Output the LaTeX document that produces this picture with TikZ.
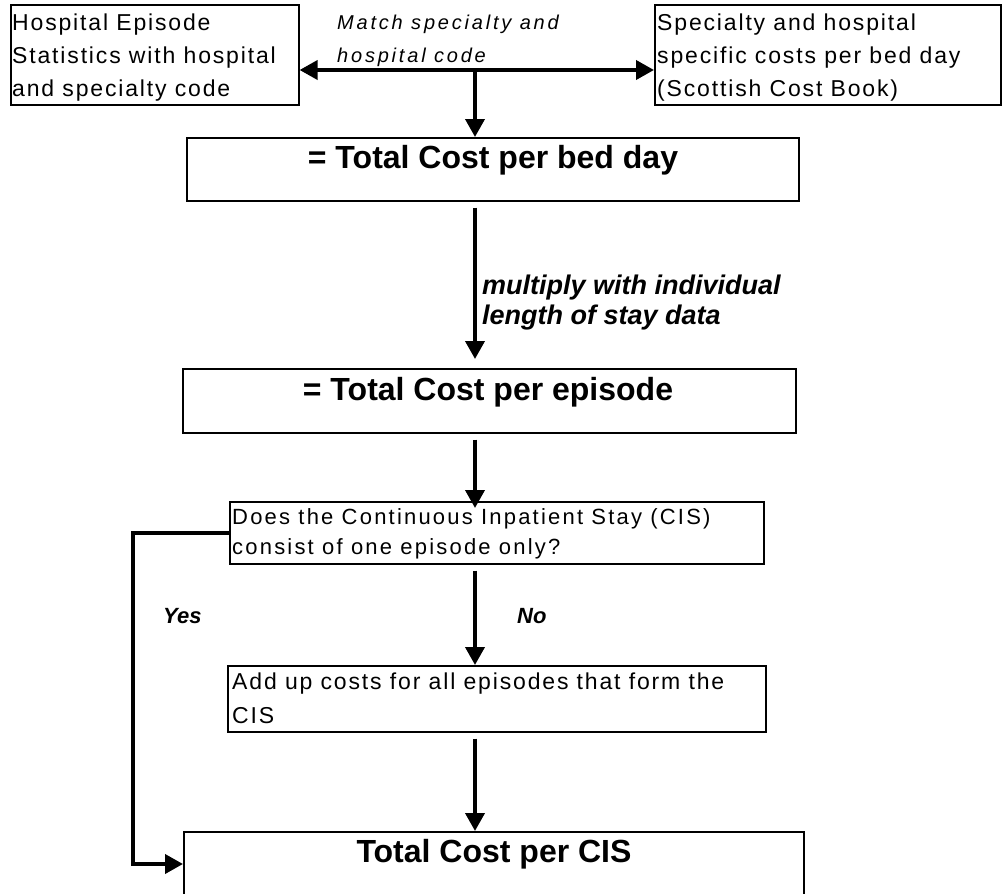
\documentclass[tikz,border=0pt]{standalone}
\usepackage{fontspec}
\setmainfont{Liberation Sans}
\newfontfamily\bodyfont[LetterSpace=8]{Liberation Sans}
\newfontfamily\qfont[LetterSpace=10]{Liberation Sans}
\newfontfamily\matchfont[LetterSpace=14]{Liberation Sans}
\usetikzlibrary{arrows.meta,calc}
\begin{document}
\begin{tikzpicture}[x=1pt,y=-1pt,
  box/.style={draw,line width=1.6pt,inner sep=0pt,anchor=north west},
  txt/.style={inner sep=0pt,anchor=north west,align=left,font=\bodyfont\fontsize{23}{33}\selectfont},
  ttl/.style={inner sep=0pt,anchor=base,font=\fontsize{32}{38}\selectfont\bfseries},
  lbl/.style={inner sep=0pt,anchor=base west,font=\fontsize{22}{26}\selectfont\bfseries\itshape},
  conn/.style={line width=3.8pt,-{Triangle[length=18pt,width=19pt]}},
  twoway/.style={line width=3.8pt,{Triangle[length=18pt,width=19pt]}-{Triangle[length=18pt,width=19pt]}}
]
\useasboundingbox (0,0) rectangle (1002,894);
\clip (0,0) rectangle (1002,894);

% boxes
\node[box,minimum width=288pt,minimum height=100pt] (hes) at (10,4) {};
\node[box,minimum width=346pt,minimum height=100pt] (cost) at (654,4) {};
\node[box,minimum width=612pt,minimum height=63pt] (bed) at (186,137) {};
\node[box,minimum width=613pt,minimum height=64pt] (epi) at (182,368) {};
\node[box,minimum width=534pt,minimum height=62pt] (q) at (229,501) {};
\node[box,minimum width=538pt,minimum height=66pt] (add) at (227,665) {};
\node[box,minimum width=620pt,minimum height=100pt] (cis) at (183,831) {};

% texts
\node[txt] (thes) at (12,14) {Hospital Episode\\Statistics with hospital\\and specialty code};
\node[txt] (tcost) at (657,14) {Specialty and hospital\\specific costs per bed day\\(Scottish Cost Book)};
\node[inner sep=0pt,anchor=north west,align=left,font=\matchfont\fontsize{20}{33}\selectfont\itshape] (tmatch) at (337,15) {Match specialty and\\hospital code};
\node[ttl] (tbed) at (493,168) {= Total Cost per bed day};
\node[inner sep=0pt,anchor=north west,align=left,font=\fontsize{27}{30}\selectfont\bfseries\itshape] (tmul) at (482,275) {multiply with individual\\length of stay data};
\node[ttl] (tepi) at (488,400) {= Total Cost per episode};
\node[inner sep=0pt,anchor=north west,align=left,font=\qfont\fontsize{22}{30}\selectfont] (tq) at (232,508) {Does the Continuous Inpatient Stay (CIS)\\consist of one episode only?};
\node[lbl] (tyes) at (163,623) {Yes};
\node[lbl] (tno) at (517,623) {No};
\node[txt,font=\bodyfont\fontsize{23}{34}\selectfont] (tadd) at (232,673) {Add up costs for all episodes that form the\\CIS};
\node[ttl] (tcis) at (494,862) {Total Cost per CIS};

% connectors
\coordinate (m) at (475,70);
\coordinate (yc) at (133,864);
\draw[twoway] (m -| hes.east) -- (m -| cost.west);
\draw[conn] (m) -- (m |- bed.north);
\draw[conn] ($(bed.south -| m)+(0,6)$) -- ($(epi.north -| m)+(0,-9)$);
\draw[conn] ($(epi.south -| m)+(0,6)$) -- ($(q.north -| m)+(0,7)$);
\draw[conn] ($(q.south -| m)+(0,6)$) -- (add.north -| m);
\draw[conn] ($(add.south -| m)+(0,6)$) -- (cis.north -| m);
\draw[conn] (q.west) -| (yc) -- (yc -| cis.west);
\end{tikzpicture}
\end{document}
